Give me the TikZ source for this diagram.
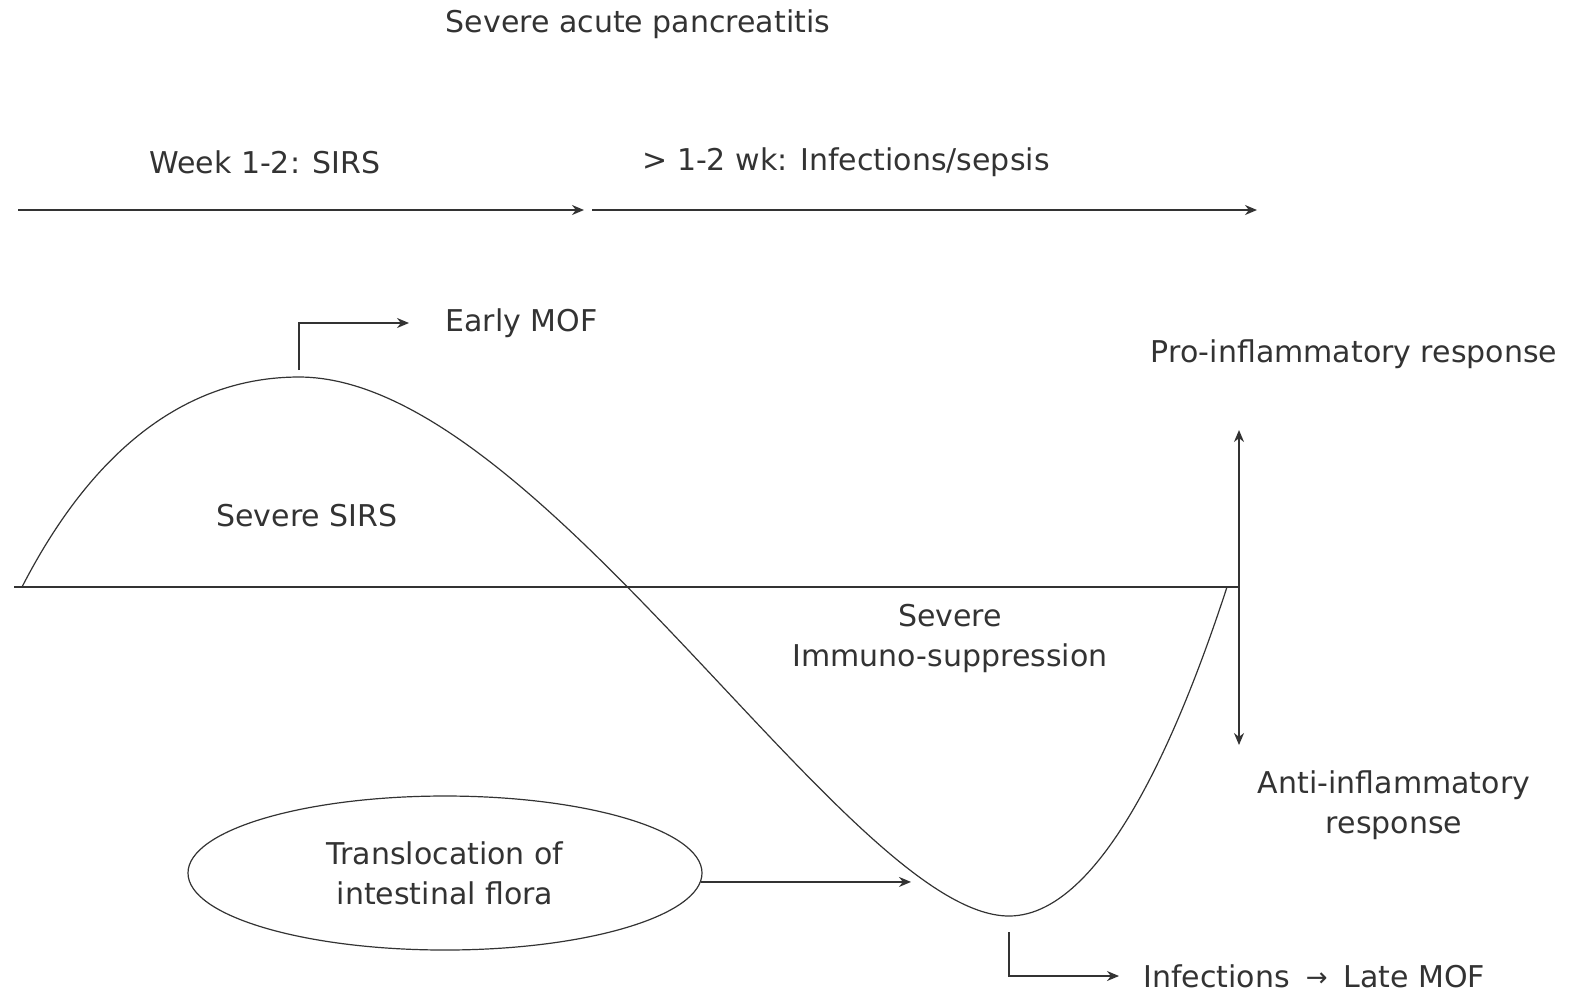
\documentclass[tikz,border=0pt]{standalone}
\usepackage{fontspec}
\setmainfont{DejaVu Sans}
\usetikzlibrary{shapes.geometric,arrows.meta}
\definecolor{ink}{rgb}{0.2,0.2,0.2}
\tikzset{
  lbl/.style={inner sep=0pt, text=ink, font=\fontsize{15}{20}\selectfont, align=center},
  arr/.style={draw=ink, line width=0.8pt, -{Stealth[length=6pt,width=5pt]}},
  biarr/.style={draw=ink, line width=0.8pt, {Stealth[length=6pt,width=5pt]}-{Stealth[length=6pt,width=5pt]}},
  wave/.style={draw=ink, line width=0.6pt}
}
\begin{document}
\begin{tikzpicture}[x=0.5pt, y=-0.5pt]
  \useasboundingbox (0,0) rectangle (1579,993);
  % texts
  \node[lbl] (title) at (638,24) {Severe acute pancreatitis};
  \node[lbl] (early) at (265,162) {Week 1-2: SIRS};
  \node[lbl] (late) at (846,162) {> 1-2 wk: Infections/sepsis};
  \node[lbl, anchor=west] (mof) at (445,323) {Early MOF};
  \node[lbl] (pro) at (1354,354) {Pro-inflammatory response};
  \node[lbl] (sirs) at (307,516) {Severe SIRS};
  \node[lbl] (immuno) at (950,638) {Severe\\Immuno-suppression};
  \node[lbl] (anti) at (1394,805) {Anti-inflammatory\\response};
  \node[lbl, draw=ink, line width=0.6pt, ellipse, minimum width=257pt, minimum height=77pt] (flora) at (445,873) {Translocation of\\intestinal flora};
  \node[lbl, anchor=west] (latemof) at (1143,976) {Infections\hspace{8pt}{\fontsize{13}{10}\selectfont\raisebox{0.5pt}{→}}\hspace{8pt}Late MOF};
  % time line
  \coordinate (t0) at (18,210);
  \coordinate (t1) at (584,210);
  \coordinate (t2) at (592,210);
  \coordinate (t3) at (1257,210);
  \draw[arr] (t0) -- (t1);
  \draw[arr] (t2) -- (t3);
  % axes
  \coordinate (axL) at (14,587);
  \coordinate (axR) at (1239,587);
  \coordinate (axtop) at (1239,430);
  \coordinate (axbot) at (1239,745);
  \draw[wave, line width=0.8pt] (axL) -- (axR);
  \draw[biarr] (axtop) -- (axbot);
  % response curve
  \coordinate (start) at (22,587);
  \coordinate (peak) at (299,377);
  \coordinate (trough) at (1009,916);
  \coordinate (finish) at (1227,587);
  \coordinate (hit) at (911,884);
  \draw[wave] (start) .. controls (95,445) and (190,377) .. (peak)
    .. controls (540,377) and (850,916) .. (trough)
    .. controls (1110,916) and (1190,700) .. (finish);
  % connectors
  \draw[arr] (peak) ++(0,-7) |- ([xshift=-18pt]mof.west);
  \draw[arr] (flora.-2.5) -- (flora.-2.5 -| hit);
  \draw[arr] (trough) ++(0,16) |- ([xshift=-12pt]latemof.west);
\end{tikzpicture}
\end{document}
